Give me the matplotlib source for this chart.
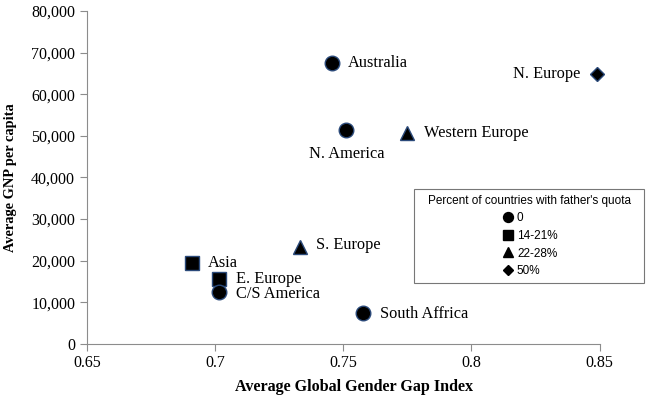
import matplotlib
matplotlib.use("Agg")
import matplotlib.pyplot as plt
from matplotlib.lines import Line2D
from matplotlib.ticker import FuncFormatter

regions = ["Australia", "N. Europe", "N. America", "Western Europe", "S. Europe",
           "Asia", "E. Europe", "C/S America", "South Affrica"]
gggi = [0.7455, 0.8488, 0.7512, 0.775, 0.733, 0.691, 0.7015, 0.7015, 0.7576]
gnp = [67600, 64900, 51400, 50700, 23300, 19500, 15600, 12500, 7400]
quota_group = ["0", "50%", "0", "22-28%", "22-28%", "14-21%", "14-21%", "0", "0"]

group_names = ["0", "14-21%", "22-28%", "50%"]
group_markers = {"0": "o", "14-21%": "s", "22-28%": "^", "50%": "D"}
group_sizes = {"0": 10.5, "14-21%": 10.5, "22-28%": 10, "50%": 7.5}

# label offsets in pixels and alignment
label_pos = {
    "Australia": (16, 0, "left", "center"),
    "N. Europe": (-16, 0, "right", "center"),
    "N. America": (0, -16, "center", "top"),
    "Western Europe": (17, 0, "left", "center"),
    "S. Europe": (16, 2, "left", "center"),
    "Asia": (16, 0, "left", "center"),
    "E. Europe": (17, 0, "left", "center"),
    "C/S America": (17, -2, "left", "center"),
    "South Affrica": (17, -1, "left", "center"),
}

serif = ["Liberation Serif", "DejaVu Serif"]
fig = plt.figure(figsize=(6.49, 4.08), dpi=100)
ax = fig.add_axes([0.134, 0.157, 0.79, 0.816])

for r, x, y, g in zip(regions, gggi, gnp, quota_group):
    ax.plot(x, y, marker=group_markers[g], markersize=group_sizes[g], color="black",
            markeredgecolor="#2b4a7a", markeredgewidth=1.0, linestyle="none", zorder=3,
            clip_on=False)
    dx, dy, ha, va = label_pos[r]
    ax.annotate(r, (x, y), xytext=(dx, dy), textcoords="offset pixels", ha=ha, va=va,
                fontsize=11.8, family=serif)

ax.set_xlim(0.65, 0.85)
ax.set_ylim(0, 80000)
ax.set_xticks([0.65, 0.7, 0.75, 0.8, 0.85])
ax.set_xticklabels(["0.65", "0.7", "0.75", "0.8", "0.85"])
ax.set_yticks(range(0, 80001, 10000))
ax.yaxis.set_major_formatter(FuncFormatter(lambda v, p: f"{int(v):,}"))
for lab in ax.get_xticklabels() + ax.get_yticklabels():
    lab.set_family(serif)
    lab.set_fontsize(11.5)
ax.spines["top"].set_visible(False)
ax.spines["right"].set_visible(False)
for s in ["left", "bottom"]:
    ax.spines[s].set_color("#8c8c8c")
ax.tick_params(axis="both", colors="#8c8c8c", labelcolor="black", length=5, direction="out")
ax.tick_params(axis="x", pad=3)

ax.set_xlabel("Average Global Gender Gap Index", fontsize=11.6, fontweight="bold", family=serif, labelpad=6)
ax.xaxis.set_label_coords(0.521, -0.105)
ax.set_ylabel("Average GNP per capita", fontsize=10.4, fontweight="bold", family=serif, labelpad=10)

handles = [Line2D([], [], marker=group_markers[g], color="black", linestyle="none",
                  markersize=group_sizes[g] * 0.68) for g in group_names]
leg = fig.legend(handles, group_names, title="Percent of countries with father's quota",
                 loc="upper left", bbox_to_anchor=(414 / 649, 1 - 189 / 408, 230 / 649, 0.0),
                 mode="expand", alignment="center", frameon=True, fancybox=False,
                 prop={"family": "Liberation Sans", "size": 8.5},
                 title_fontproperties={"family": "Liberation Sans", "size": 8.5},
                 handletextpad=0.2, labelspacing=0.47, borderpad=0.5, handlelength=1.2,
                 borderaxespad=0)
leg._legend_handle_box.mode = "fixed"
leg.get_frame().set_edgecolor("#555555")
leg.get_frame().set_linewidth(0.8)

fig.savefig("out.png", dpi=100)
